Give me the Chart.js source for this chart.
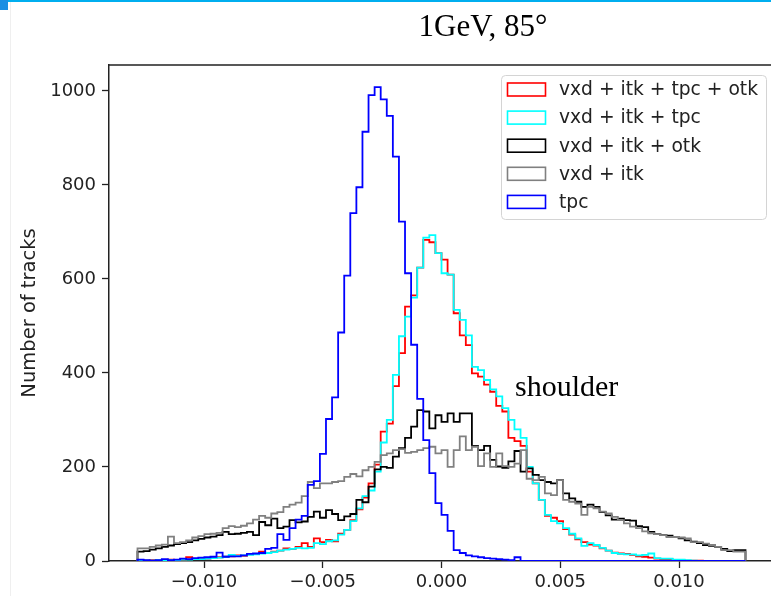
<!DOCTYPE html>
<html><head><meta charset="utf-8">
<script src="https://cdn.jsdelivr.net/npm/chart.js@4"></script>
<style>
html,body{margin:0;padding:0;background:#fff;overflow:hidden;width:771px;height:596px;}
#wrap{position:absolute;left:0;top:0;width:780px;height:596px;}
#topbar{position:absolute;left:0;top:0;width:771px;height:2px;background:#00aeef;}
#sq{position:absolute;left:0;top:0;width:8px;height:10px;background:#1b8fe3;}
#vl{position:absolute;left:10px;top:2px;width:1px;height:594px;background:#efefef;}
</style></head>
<body>
<div id="wrap"><canvas id="c" width="780" height="596" style="width:780px;height:596px"></canvas></div>
<div id="vl"></div><div id="topbar"></div><div id="sq"></div>
<script>
// histogram binning
const binLo = -0.0128, binHi = 0.0128, nBins = 100;
const xTicks = [-0.010, -0.005, 0.000, 0.005, 0.010];
const yTicks = [0, 200, 400, 600, 800, 1000];
const seriesNames = ['vxd + itk + tpc + otk', 'vxd + itk + tpc', 'vxd + itk + otk', 'vxd + itk', 'tpc'];
const seriesColors = ['#ff0000', '#00ffff', '#000000', '#808080', '#0000ff'];

const red = [1,2,1,2,1,2,3,2,3,8, 4,4,5,6,8,9,10,12,11,14, 15,20,17,20,22,27,26,30,38,30,
  48,40,45,42,58,66,87,110,135,165, 205,275,292,372,442,541,565,624,683,678,
  655,641,609,527,480,459,399,392,375,360, 330,318,262,255,245,190,165,130,96,92,
  85,68,56,46,40,35,33,27,22,18, 16,15,13,10,9,7,5,4,4,2, 2,1,1,1,0,0,0,0,0,0];
const cyan = [1,1,1,1,2,1,2,2,3,3, 4,4,5,6,7,9,13,11,12,13, 14,16,17,19,22,24,26,28,27,28,
  38,36,42,44,56,66,85,112,138,150, 190,252,300,396,478,520,560,624,688,693,
  655,612,609,534,513,480,413,406,385,365, 350,325,300,280,262,200,165,130,98,85,
  80,70,58,48,32,38,34,28,22,17, 15,14,14,12,13,16,6,5,5,3, 3,2,1,0,0,0,0,0,0,0];
const black = [18,20,21,24,27,30,33,36,38,40, 44,47,50,52,55,62,57,58,60,62, 55,83,76,90,70,73,87,82,84,94,
  105,92,108,100,87,95,100,130,125,158, 195,200,198,222,240,262,286,321,318,282,
  310,296,314,296,314,314,245,236,245,215, 201,198,212,234,190,197,183,172,168,165,
  172,144,133,126,115,120,115,104,97,88, 90,87,86,74,72,62,57,55,54,51, 48,44,41,38,34,32,30,26,21,23];
const gray = [23,27,27,30,33,35,52,38,40,44, 50,53,57,58,60,70,74,72,75,80, 88,96,92,101,104,115,120,124,138,168,
  155,165,165,168,170,179,185,180,193,200, 211,225,229,236,238,230,232,236,240,243,
  229,236,200,236,265,236,243,202,229,200, 229,202,200,207,236,175,172,179,144,140,
  172,130,126,122,98,115,112,105,101,94, 87,80,73,70,63,59,57,55,51,51, 50,48,40,40,37,34,30,23,23,20];
const blue = [2,3,2,1,2,4,2,3,5,4, 6,7,8,9,18,9,10,10,12,15, 16,17,26,28,57,45,70,88,96,162,
  170,228,302,348,486,607,740,795,913,991, 1008,982,947,860,722,612,460,345,257,187,
  123,98,64,23,17,12,10,8,6,5, 4,3,2,8,0,0,0,0,0,0,
  0,0,0,0,0,0,0,0,0,0, 0,0,0,0,0,0,0,0,0,0, 0,0,0,0,0,0,0,0,0,0];
const allCounts = [red, cyan, black, gray, blue];

const edges = Array.from({length: nBins + 1}, (_, i) => binLo + (binHi - binLo) * i / nBins);
function stepData(counts) {
  const pts = [{x: edges[0], y: 0}];
  counts.forEach((v, i) => pts.push({x: edges[i], y: v}));
  pts.push({x: edges[nBins], y: counts[nBins - 1]});
  pts.push({x: edges[nBins], y: 0});
  return pts;
}

const FONT = "'DejaVu Sans', 'Liberation Sans', sans-serif";
const TXT = '#222';

const overlay = {
  id: 'overlay',
  afterDraw(chart) {
    const {ctx, chartArea: a} = chart;
    ctx.save();
    // top/right spines
    ctx.strokeStyle = TXT; ctx.lineWidth = 1.5;
    ctx.beginPath(); ctx.moveTo(a.left, a.top); ctx.lineTo(a.right, a.top); ctx.lineTo(a.right, a.bottom); ctx.stroke();
    // legend
    const bx = 501.5, by = 75.5, bw = 265, bh = 144, r = 4;
    ctx.beginPath();
    ctx.moveTo(bx + r, by); ctx.lineTo(bx + bw - r, by); ctx.quadraticCurveTo(bx + bw, by, bx + bw, by + r);
    ctx.lineTo(bx + bw, by + bh - r); ctx.quadraticCurveTo(bx + bw, by + bh, bx + bw - r, by + bh);
    ctx.lineTo(bx + r, by + bh); ctx.quadraticCurveTo(bx, by + bh, bx, by + bh - r);
    ctx.lineTo(bx, by + r); ctx.quadraticCurveTo(bx, by, bx + r, by);
    ctx.closePath();
    ctx.fillStyle = 'rgba(255,255,255,0.85)'; ctx.fill();
    ctx.strokeStyle = '#d4d4d4'; ctx.lineWidth = 1; ctx.stroke();
    ctx.font = '18.7px ' + FONT; ctx.textBaseline = 'middle'; ctx.textAlign = 'left';
    seriesNames.forEach((name, i) => {
      const cy = 89.5 + i * 28.1;
      ctx.strokeStyle = seriesColors[i]; ctx.lineWidth = 1.6;
      ctx.strokeRect(507.5, cy - 6.5, 38, 13);
      ctx.fillStyle = TXT;
      ctx.fillText(name, 559, cy + 1);
    });
    // annotations
    ctx.fillStyle = '#000';
    ctx.font = "31px 'Liberation Serif', 'DejaVu Serif', serif";
    ctx.textAlign = 'center'; ctx.textBaseline = 'alphabetic';
    ctx.fillText('1GeV, 85°', 483, 36);
    ctx.textAlign = 'left';
    ctx.font = "30px 'Liberation Serif', 'DejaVu Serif', serif";
    ctx.fillText('shoulder', 515, 396);
    ctx.restore();
  }
};

new Chart(document.getElementById('c'), {
  type: 'line',
  data: {
    datasets: allCounts.map((c, i) => ({
      label: seriesNames[i],
      data: stepData(c),
      borderColor: seriesColors[i],
      backgroundColor: seriesColors[i],
      borderWidth: 1.8,
      pointRadius: 0,
      stepped: 'after',
      fill: false,
      order: 5 - i
    }))
  },
  options: {
    responsive: false,
    animation: false,
    layout: {padding: {top: 65, right: 6, left: 0, bottom: 0}},
    plugins: {legend: {display: false}, tooltip: {enabled: false}, title: {display: false}},
    scales: {
      x: {
        type: 'linear', min: -0.014, max: 0.014,
        afterBuildTicks: s => { s.ticks = xTicks.map(v => ({value: v})); },
        afterFit: s => { s.height = 35; },
        ticks: {
          autoSkip: false, maxRotation: 0, padding: 4, color: TXT,
          font: {family: FONT, size: 18},
          callback: v => (Math.abs(v) < 1e-12 ? '0.000' : Number(v).toFixed(3)).replace('-', '\u2212')
        },
        grid: {display: true, drawOnChartArea: false, drawTicks: true, tickLength: 7, tickColor: TXT, tickWidth: 1.3},
        border: {display: true, color: TXT, width: 1.5}
      },
      y: {
        type: 'linear', min: 0, max: 1055,
        afterBuildTicks: s => { s.ticks = yTicks.map(v => ({value: v})); },
        afterFit: s => { s.width = 109; },
        ticks: {padding: 6, color: TXT, font: {family: FONT, size: 18}, callback: v => String(v)},
        grid: {display: true, drawOnChartArea: false, drawTicks: true, tickLength: 7, tickColor: TXT, tickWidth: 1.3},
        border: {display: true, color: TXT, width: 1.5},
        title: {display: true, text: 'Number of tracks', color: TXT, font: {family: FONT, size: 19.5}, padding: {top: 18, bottom: 0}}
      }
    }
  },
  plugins: [overlay]
});
</script>
</body></html>
